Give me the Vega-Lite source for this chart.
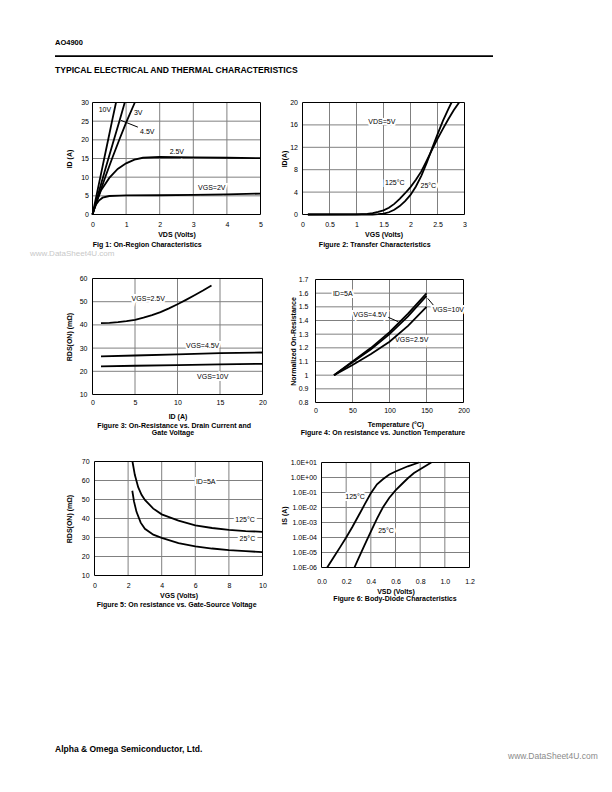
{
  "$schema": "https://vega.github.io/schema/vega-lite/v6.json",
  "width": 612,
  "height": 792,
  "autosize": {"type": "none"},
  "padding": 0,
  "background": "white",
  "datasets": {
    "f1": [
      {"s": "10V", "x": 0, "y": 0}, {"s": "10V", "x": 0.1, "y": 4.3}, {"s": "10V", "x": 0.2, "y": 8.6}, {"s": "10V", "x": 0.3, "y": 12.9}, {"s": "10V", "x": 0.4, "y": 17.2}, {"s": "10V", "x": 0.5, "y": 21.5}, {"s": "10V", "x": 0.6, "y": 25.8}, {"s": "10V", "x": 0.7, "y": 30},
      {"s": "4.5V", "x": 0, "y": 0}, {"s": "4.5V", "x": 0.2, "y": 6.4}, {"s": "4.5V", "x": 0.4, "y": 12.7}, {"s": "4.5V", "x": 0.6, "y": 18.9}, {"s": "4.5V", "x": 0.8, "y": 25.0}, {"s": "4.5V", "x": 0.96, "y": 30},
      {"s": "3V", "x": 0, "y": 0}, {"s": "3V", "x": 0.2, "y": 5.4}, {"s": "3V", "x": 0.4, "y": 10.5}, {"s": "3V", "x": 0.6, "y": 15.4}, {"s": "3V", "x": 0.8, "y": 20.1}, {"s": "3V", "x": 1.0, "y": 24.6}, {"s": "3V", "x": 1.26, "y": 30},
      {"s": "2.5V", "x": 0, "y": 0}, {"s": "2.5V", "x": 0.1, "y": 3}, {"s": "2.5V", "x": 0.25, "y": 6.4}, {"s": "2.5V", "x": 0.5, "y": 9.8}, {"s": "2.5V", "x": 0.75, "y": 12.2}, {"s": "2.5V", "x": 1.0, "y": 13.7}, {"s": "2.5V", "x": 1.25, "y": 14.7}, {"s": "2.5V", "x": 1.5, "y": 15.2}, {"s": "2.5V", "x": 2, "y": 15.4}, {"s": "2.5V", "x": 3, "y": 15.3}, {"s": "2.5V", "x": 4, "y": 15.2}, {"s": "2.5V", "x": 5, "y": 15.1},
      {"s": "2V", "x": 0, "y": 0}, {"s": "2V", "x": 0.05, "y": 1.5}, {"s": "2V", "x": 0.1, "y": 2.6}, {"s": "2V", "x": 0.2, "y": 3.8}, {"s": "2V", "x": 0.3, "y": 4.5}, {"s": "2V", "x": 0.5, "y": 4.95}, {"s": "2V", "x": 0.8, "y": 5.05}, {"s": "2V", "x": 1, "y": 5.1}, {"s": "2V", "x": 2, "y": 5.15}, {"s": "2V", "x": 3, "y": 5.25}, {"s": "2V", "x": 4, "y": 5.4}, {"s": "2V", "x": 5, "y": 5.6}
    ],
    "f1l": [
      {"x": 0.37, "y": 28.07, "t": "10V"},
      {"x": 1.36, "y": 27.19, "t": "3V"},
      {"x": 1.63, "y": 22.0, "t": "4.5V"},
      {"x": 2.51, "y": 16.66, "t": "2.5V"},
      {"x": 3.55, "y": 7.0, "t": "VGS=2V"}
    ],
    "f1a": [{"x": 1.35, "y": 23.4, "x2": 0.85, "y2": 25.2}],
    "f2": [
      {"s": "125", "x": 0.1, "y": 0}, {"s": "125", "x": 1.0, "y": 0.02}, {"s": "125", "x": 1.2, "y": 0.1}, {"s": "125", "x": 1.3, "y": 0.25}, {"s": "125", "x": 1.4, "y": 0.45}, {"s": "125", "x": 1.5, "y": 0.75}, {"s": "125", "x": 1.6, "y": 1.2}, {"s": "125", "x": 1.7, "y": 1.9}, {"s": "125", "x": 1.8, "y": 2.8}, {"s": "125", "x": 1.9, "y": 3.8}, {"s": "125", "x": 2.0, "y": 4.9}, {"s": "125", "x": 2.1, "y": 6.2}, {"s": "125", "x": 2.2, "y": 7.7}, {"s": "125", "x": 2.3, "y": 9.6}, {"s": "125", "x": 2.4, "y": 11.6}, {"s": "125", "x": 2.5, "y": 13.5}, {"s": "125", "x": 2.6, "y": 15.3}, {"s": "125", "x": 2.7, "y": 17.0}, {"s": "125", "x": 2.8, "y": 18.6}, {"s": "125", "x": 2.9, "y": 20},
      {"s": "25", "x": 0.1, "y": 0}, {"s": "25", "x": 1.3, "y": 0}, {"s": "25", "x": 1.4, "y": 0.05}, {"s": "25", "x": 1.5, "y": 0.15}, {"s": "25", "x": 1.6, "y": 0.4}, {"s": "25", "x": 1.7, "y": 0.85}, {"s": "25", "x": 1.8, "y": 1.5}, {"s": "25", "x": 1.9, "y": 2.4}, {"s": "25", "x": 2.0, "y": 3.5}, {"s": "25", "x": 2.1, "y": 5.0}, {"s": "25", "x": 2.2, "y": 6.9}, {"s": "25", "x": 2.3, "y": 9.2}, {"s": "25", "x": 2.4, "y": 11.8}, {"s": "25", "x": 2.5, "y": 14.3}, {"s": "25", "x": 2.6, "y": 16.7}, {"s": "25", "x": 2.7, "y": 18.8}, {"s": "25", "x": 2.76, "y": 20}
    ],
    "f2l": [
      {"x": 1.47, "y": 16.46, "t": "VDS=5V"},
      {"x": 1.71, "y": 5.57, "t": "125°C"},
      {"x": 2.33, "y": 5.14, "t": "25°C"}
    ],
    "f3": [
      {"s": "2.5V", "x": 1, "y": 40.8}, {"s": "2.5V", "x": 2, "y": 40.9}, {"s": "2.5V", "x": 3, "y": 41.2}, {"s": "2.5V", "x": 4, "y": 41.6}, {"s": "2.5V", "x": 5, "y": 42.2}, {"s": "2.5V", "x": 6, "y": 43.1}, {"s": "2.5V", "x": 7, "y": 44.2}, {"s": "2.5V", "x": 8, "y": 45.5}, {"s": "2.5V", "x": 9, "y": 47.1}, {"s": "2.5V", "x": 10, "y": 48.9}, {"s": "2.5V", "x": 11, "y": 50.8}, {"s": "2.5V", "x": 12, "y": 52.8}, {"s": "2.5V", "x": 13, "y": 54.8}, {"s": "2.5V", "x": 14, "y": 57.0},
      {"s": "4.5V", "x": 1, "y": 26.4}, {"s": "4.5V", "x": 5, "y": 26.8}, {"s": "4.5V", "x": 10, "y": 27.3}, {"s": "4.5V", "x": 15, "y": 27.8}, {"s": "4.5V", "x": 20, "y": 28.1},
      {"s": "10V", "x": 1, "y": 22.1}, {"s": "10V", "x": 5, "y": 22.4}, {"s": "10V", "x": 10, "y": 22.7}, {"s": "10V", "x": 15, "y": 23.0}, {"s": "10V", "x": 20, "y": 23.2}
    ],
    "f3l": [
      {"x": 6.56, "y": 51.0, "t": "VGS=2.5V"},
      {"x": 12.96, "y": 30.78, "t": "VGS=4.5V"},
      {"x": 14.14, "y": 17.41, "t": "VGS=10V"}
    ],
    "f4": [
      {"s": "10V", "x": 25, "y": 1.0}, {"s": "10V", "x": 50, "y": 1.1}, {"s": "10V", "x": 75, "y": 1.2}, {"s": "10V", "x": 100, "y": 1.315}, {"s": "10V", "x": 125, "y": 1.45}, {"s": "10V", "x": 150, "y": 1.598},
      {"s": "4.5V", "x": 25, "y": 1.0}, {"s": "4.5V", "x": 50, "y": 1.095}, {"s": "4.5V", "x": 75, "y": 1.19}, {"s": "4.5V", "x": 100, "y": 1.3}, {"s": "4.5V", "x": 125, "y": 1.43}, {"s": "4.5V", "x": 150, "y": 1.58},
      {"s": "2.5V", "x": 25, "y": 1.0}, {"s": "2.5V", "x": 50, "y": 1.075}, {"s": "2.5V", "x": 75, "y": 1.155}, {"s": "2.5V", "x": 100, "y": 1.245}, {"s": "2.5V", "x": 125, "y": 1.36}, {"s": "2.5V", "x": 150, "y": 1.5}
    ],
    "f4l": [
      {"x": 36.8, "y": 1.594, "t": "ID=5A"},
      {"x": 73.6, "y": 1.44, "t": "VGS=4.5V"},
      {"x": 179.5, "y": 1.477, "t": "VGS=10V"},
      {"x": 130, "y": 1.257, "t": "VGS=2.5V"}
    ],
    "f4a": [
      {"x": 98.4, "y": 1.423, "x2": 111.9, "y2": 1.391},
      {"x": 159.2, "y": 1.513, "x2": 151.6, "y2": 1.562}
    ],
    "f5": [
      {"s": "125", "x": 2.26, "y": 70}, {"s": "125", "x": 2.4, "y": 63}, {"s": "125", "x": 2.6, "y": 56.5}, {"s": "125", "x": 2.8, "y": 52.5}, {"s": "125", "x": 3.0, "y": 49.8}, {"s": "125", "x": 3.5, "y": 45.2}, {"s": "125", "x": 4, "y": 42.2}, {"s": "125", "x": 5, "y": 38.9}, {"s": "125", "x": 6, "y": 36.4}, {"s": "125", "x": 7, "y": 35.0}, {"s": "125", "x": 8, "y": 34.0}, {"s": "125", "x": 9, "y": 33.4}, {"s": "125", "x": 10, "y": 33.0},
      {"s": "25", "x": 2.25, "y": 54.6}, {"s": "25", "x": 2.35, "y": 49}, {"s": "25", "x": 2.5, "y": 43.5}, {"s": "25", "x": 2.75, "y": 37.8}, {"s": "25", "x": 3.0, "y": 34.6}, {"s": "25", "x": 3.5, "y": 31.5}, {"s": "25", "x": 4, "y": 29.8}, {"s": "25", "x": 5, "y": 27.1}, {"s": "25", "x": 6, "y": 25.3}, {"s": "25", "x": 7, "y": 24.2}, {"s": "25", "x": 8, "y": 23.4}, {"s": "25", "x": 9, "y": 22.8}, {"s": "25", "x": 10, "y": 22.3}
    ],
    "f5l": [
      {"x": 6.62, "y": 59.05, "t": "ID=5A"},
      {"x": 8.96, "y": 39.2, "t": "125°C"},
      {"x": 9.1, "y": 29.05, "t": "25°C"}
    ],
    "f6": [
      {"s": "125", "x": 0.046, "y": 1e-6}, {"s": "125", "x": 0.1, "y": 5.0e-6}, {"s": "125", "x": 0.15, "y": 2.2e-5}, {"s": "125", "x": 0.2, "y": 1.0e-4}, {"s": "125", "x": 0.25, "y": 5.0e-4}, {"s": "125", "x": 0.3, "y": 2.8e-3}, {"s": "125", "x": 0.35, "y": 1.6e-2}, {"s": "125", "x": 0.4, "y": 8.9e-2}, {"s": "125", "x": 0.45, "y": 0.35}, {"s": "125", "x": 0.5, "y": 0.79}, {"s": "125", "x": 0.55, "y": 1.6}, {"s": "125", "x": 0.6, "y": 2.5}, {"s": "125", "x": 0.7, "y": 5.6}, {"s": "125", "x": 0.79, "y": 10},
      {"s": "25", "x": 0.267, "y": 1e-6}, {"s": "25", "x": 0.3, "y": 4.0e-6}, {"s": "25", "x": 0.35, "y": 3.2e-5}, {"s": "25", "x": 0.4, "y": 2.5e-4}, {"s": "25", "x": 0.45, "y": 1.8e-3}, {"s": "25", "x": 0.5, "y": 1.1e-2}, {"s": "25", "x": 0.55, "y": 4.5e-2}, {"s": "25", "x": 0.6, "y": 0.14}, {"s": "25", "x": 0.65, "y": 0.355}, {"s": "25", "x": 0.7, "y": 0.89}, {"s": "25", "x": 0.75, "y": 2.0}, {"s": "25", "x": 0.8, "y": 3.55}, {"s": "25", "x": 0.89, "y": 10}
    ],
    "f6l": [
      {"x": 0.272, "y": 0.048, "t": "125°C"},
      {"x": 0.523, "y": 0.00027, "t": "25°C"}
    ]
  },
  "layer": [
    {
      "layer": [
        {"data": {"values": [{"t": "AO4900"}]}, "mark": {"type": "text", "align": "left", "baseline": "middle", "fontWeight": "bold", "fontSize": 7.5},
         "encoding": {"x": {"datum": 55, "type": "quantitative", "scale": {"domain": [0, 612], "range": [0, 612], "nice": false, "zero": false}, "axis": null},
                      "y": {"datum": 43.3, "type": "quantitative", "scale": {"domain": [0, 792], "range": [0, 792], "nice": false, "zero": false}, "axis": null},
                      "text": {"field": "t"}}},
        {"data": {"values": [{"t": "rule"}]}, "mark": {"type": "rule", "strokeWidth": 1.8, "color": "#000"},
         "encoding": {"x": {"datum": 55, "type": "quantitative", "scale": {"domain": [0, 612], "range": [0, 612], "nice": false, "zero": false}, "axis": null}, "x2": {"datum": 493},
                      "y": {"datum": 56.2, "type": "quantitative", "scale": {"domain": [0, 792], "range": [0, 792], "nice": false, "zero": false}, "axis": null}}},
        {"data": {"values": [{"t": "TYPICAL ELECTRICAL AND THERMAL CHARACTERISTICS"}]}, "mark": {"type": "text", "align": "left", "baseline": "middle", "fontWeight": "bold", "fontSize": 8.6},
         "encoding": {"x": {"datum": 55, "type": "quantitative", "scale": {"domain": [0, 612], "range": [0, 612], "nice": false, "zero": false}, "axis": null},
                      "y": {"datum": 69.5, "type": "quantitative", "scale": {"domain": [0, 792], "range": [0, 792], "nice": false, "zero": false}, "axis": null},
                      "text": {"field": "t"}}},
        {"data": {"values": [{"t": "www.DataSheet4U.com"}]}, "mark": {"type": "text", "align": "left", "baseline": "middle", "fontSize": 8, "color": "#c8c8c8"},
         "encoding": {"x": {"datum": 30, "type": "quantitative", "scale": {"domain": [0, 612], "range": [0, 612], "nice": false, "zero": false}, "axis": null},
                      "y": {"datum": 254, "type": "quantitative", "scale": {"domain": [0, 792], "range": [0, 792], "nice": false, "zero": false}, "axis": null},
                      "text": {"field": "t"}}},
        {"data": {"values": [{"t": "Alpha & Omega Semiconductor, Ltd."}]}, "mark": {"type": "text", "align": "left", "baseline": "middle", "fontWeight": "bold", "fontSize": 8.5},
         "encoding": {"x": {"datum": 55, "type": "quantitative", "scale": {"domain": [0, 612], "range": [0, 612], "nice": false, "zero": false}, "axis": null},
                      "y": {"datum": 749, "type": "quantitative", "scale": {"domain": [0, 792], "range": [0, 792], "nice": false, "zero": false}, "axis": null},
                      "text": {"field": "t"}}},
        {"data": {"values": [{"t": "www.DataSheet4U.com"}]}, "mark": {"type": "text", "align": "left", "baseline": "middle", "fontSize": 8.5, "color": "#8a8a8a"},
         "encoding": {"x": {"datum": 508, "type": "quantitative", "scale": {"domain": [0, 612], "range": [0, 612], "nice": false, "zero": false}, "axis": null},
                      "y": {"datum": 756, "type": "quantitative", "scale": {"domain": [0, 792], "range": [0, 792], "nice": false, "zero": false}, "axis": null},
                      "text": {"field": "t"}}}
      ]
    },
    {
      "layer": [
        {"data": {"values": [{"g": 1}, {"g": 2}, {"g": 3}, {"g": 4}]}, "mark": {"type": "rule", "color": "#808080", "strokeWidth": 1},
         "encoding": {"x": {"field": "g", "type": "quantitative", "scale": {"domain": [0, 5], "range": [92.5, 260.5], "nice": false, "zero": false}},
                      "y": {"datum": 0, "type": "quantitative", "scale": {"domain": [0, 30], "range": [214.5, 102.5], "nice": false, "zero": false}}, "y2": {"datum": 30}}},
        {"data": {"values": [{"g": 5}, {"g": 10}, {"g": 15}, {"g": 20}, {"g": 25}]}, "mark": {"type": "rule", "color": "#808080", "strokeWidth": 1},
         "encoding": {"y": {"field": "g", "type": "quantitative", "scale": {"domain": [0, 30], "range": [214.5, 102.5], "nice": false, "zero": false}},
                      "x": {"datum": 0, "type": "quantitative", "scale": {"domain": [0, 5], "range": [92.5, 260.5], "nice": false, "zero": false}}, "x2": {"datum": 5}}},
        {"data": {"values": [{"t": "frame"}]}, "mark": {"type": "rect", "filled": false, "color": "#000", "strokeWidth": 1},
         "encoding": {"x": {"datum": 0, "type": "quantitative", "scale": {"domain": [0, 5], "range": [92.5, 260.5], "nice": false, "zero": false}}, "x2": {"datum": 5},
                      "y": {"datum": 0, "type": "quantitative", "scale": {"domain": [0, 30], "range": [214.5, 102.5], "nice": false, "zero": false}}, "y2": {"datum": 30}}},
        {"data": {"name": "f1l"}, "mark": {"type": "text", "stroke": "white", "strokeWidth": 4, "fill": "white"},
         "encoding": {"x": {"field": "x", "type": "quantitative", "scale": {"domain": [0, 5], "range": [92.5, 260.5], "nice": false, "zero": false}},
                      "y": {"field": "y", "type": "quantitative", "scale": {"domain": [0, 30], "range": [214.5, 102.5], "nice": false, "zero": false}}, "text": {"field": "t"}}},
        {"data": {"name": "f1"}, "mark": {"type": "line"},
         "encoding": {"x": {"field": "x", "type": "quantitative", "scale": {"domain": [0, 5], "range": [92.5, 260.5], "nice": false, "zero": false},
                            "axis": {"orient": "bottom", "offset": -577.5, "values": [0, 1, 2, 3, 4, 5], "format": "~g", "title": "VDS (Volts)", "labelPadding": 6, "titlePadding": 3}},
                      "y": {"field": "y", "type": "quantitative", "scale": {"domain": [0, 30], "range": [214.5, 102.5], "nice": false, "zero": false},
                            "axis": {"orient": "left", "offset": -92.5, "values": [0, 5, 10, 15, 20, 25, 30], "format": "~g", "title": "ID (A)", "labelPadding": 4, "titlePadding": 8}},
                      "detail": {"field": "s"}}},
        {"data": {"name": "f1a"}, "mark": {"type": "rule", "color": "#000", "strokeWidth": 1},
         "encoding": {"x": {"field": "x", "type": "quantitative", "scale": {"domain": [0, 5], "range": [92.5, 260.5], "nice": false, "zero": false}},
                      "y": {"field": "y", "type": "quantitative", "scale": {"domain": [0, 30], "range": [214.5, 102.5], "nice": false, "zero": false}},
                      "x2": {"field": "x2"}, "y2": {"field": "y2"}}},
        {"data": {"name": "f1l"}, "mark": {"type": "text"},
         "encoding": {"x": {"field": "x", "type": "quantitative", "scale": {"domain": [0, 5], "range": [92.5, 260.5], "nice": false, "zero": false}},
                      "y": {"field": "y", "type": "quantitative", "scale": {"domain": [0, 30], "range": [214.5, 102.5], "nice": false, "zero": false}}, "text": {"field": "t"}}},
        {"data": {"values": [{"t": "Fig 1: On-Region Characteristics"}]}, "mark": {"type": "text", "fontWeight": "bold"},
         "encoding": {"x": {"datum": 1.63, "type": "quantitative", "scale": {"domain": [0, 5], "range": [92.5, 260.5], "nice": false, "zero": false}},
                      "y": {"datum": -8.17, "type": "quantitative", "scale": {"domain": [0, 30], "range": [214.5, 102.5], "nice": false, "zero": false}}, "text": {"field": "t"}}}
      ]
    },
    {
      "layer": [
        {"data": {"values": [{"g": 0.5}, {"g": 1}, {"g": 1.5}, {"g": 2}, {"g": 2.5}]}, "mark": {"type": "rule", "color": "#808080", "strokeWidth": 1},
         "encoding": {"x": {"field": "g", "type": "quantitative", "scale": {"domain": [0, 3], "range": [302.5, 464.5], "nice": false, "zero": false}},
                      "y": {"datum": 0, "type": "quantitative", "scale": {"domain": [0, 20], "range": [214.5, 102.5], "nice": false, "zero": false}}, "y2": {"datum": 20}}},
        {"data": {"values": [{"g": 4}, {"g": 8}, {"g": 12}, {"g": 16}]}, "mark": {"type": "rule", "color": "#808080", "strokeWidth": 1},
         "encoding": {"y": {"field": "g", "type": "quantitative", "scale": {"domain": [0, 20], "range": [214.5, 102.5], "nice": false, "zero": false}},
                      "x": {"datum": 0, "type": "quantitative", "scale": {"domain": [0, 3], "range": [302.5, 464.5], "nice": false, "zero": false}}, "x2": {"datum": 3}}},
        {"data": {"values": [{"t": "frame"}]}, "mark": {"type": "rect", "filled": false, "color": "#000", "strokeWidth": 1},
         "encoding": {"x": {"datum": 0, "type": "quantitative", "scale": {"domain": [0, 3], "range": [302.5, 464.5], "nice": false, "zero": false}}, "x2": {"datum": 3},
                      "y": {"datum": 0, "type": "quantitative", "scale": {"domain": [0, 20], "range": [214.5, 102.5], "nice": false, "zero": false}}, "y2": {"datum": 20}}},
        {"data": {"name": "f2l"}, "mark": {"type": "text", "stroke": "white", "strokeWidth": 4, "fill": "white"},
         "encoding": {"x": {"field": "x", "type": "quantitative", "scale": {"domain": [0, 3], "range": [302.5, 464.5], "nice": false, "zero": false}},
                      "y": {"field": "y", "type": "quantitative", "scale": {"domain": [0, 20], "range": [214.5, 102.5], "nice": false, "zero": false}}, "text": {"field": "t"}}},
        {"data": {"name": "f2"}, "mark": {"type": "line"},
         "encoding": {"x": {"field": "x", "type": "quantitative", "scale": {"domain": [0, 3], "range": [302.5, 464.5], "nice": false, "zero": false},
                            "axis": {"orient": "bottom", "offset": -577.5, "values": [0, 0.5, 1, 1.5, 2, 2.5, 3], "format": "~g", "title": "VGS (Volts)", "labelPadding": 6, "titlePadding": 3}},
                      "y": {"field": "y", "type": "quantitative", "scale": {"domain": [0, 20], "range": [214.5, 102.5], "nice": false, "zero": false},
                            "axis": {"orient": "left", "offset": -302.5, "values": [0, 4, 8, 12, 16, 20], "format": "~g", "title": "ID(A)", "labelPadding": 5, "titlePadding": 2}},
                      "detail": {"field": "s"}}},
        {"data": {"name": "f2l"}, "mark": {"type": "text"},
         "encoding": {"x": {"field": "x", "type": "quantitative", "scale": {"domain": [0, 3], "range": [302.5, 464.5], "nice": false, "zero": false}},
                      "y": {"field": "y", "type": "quantitative", "scale": {"domain": [0, 20], "range": [214.5, 102.5], "nice": false, "zero": false}}, "text": {"field": "t"}}},
        {"data": {"values": [{"t": "Figure 2: Transfer Characteristics"}]}, "mark": {"type": "text", "fontWeight": "bold"},
         "encoding": {"x": {"datum": 1.337, "type": "quantitative", "scale": {"domain": [0, 3], "range": [302.5, 464.5], "nice": false, "zero": false}},
                      "y": {"datum": -5.45, "type": "quantitative", "scale": {"domain": [0, 20], "range": [214.5, 102.5], "nice": false, "zero": false}}, "text": {"field": "t"}}}
      ]
    },
    {
      "layer": [
        {"data": {"values": [{"g": 5}, {"g": 10}, {"g": 15}]}, "mark": {"type": "rule", "color": "#808080", "strokeWidth": 1},
         "encoding": {"x": {"field": "g", "type": "quantitative", "scale": {"domain": [0, 20], "range": [92.5, 262.5], "nice": false, "zero": false}},
                      "y": {"datum": 10, "type": "quantitative", "scale": {"domain": [10, 60], "range": [394.5, 278.5], "nice": false, "zero": false}}, "y2": {"datum": 60}}},
        {"data": {"values": [{"g": 20}, {"g": 30}, {"g": 40}, {"g": 50}]}, "mark": {"type": "rule", "color": "#808080", "strokeWidth": 1},
         "encoding": {"y": {"field": "g", "type": "quantitative", "scale": {"domain": [10, 60], "range": [394.5, 278.5], "nice": false, "zero": false}},
                      "x": {"datum": 0, "type": "quantitative", "scale": {"domain": [0, 20], "range": [92.5, 262.5], "nice": false, "zero": false}}, "x2": {"datum": 20}}},
        {"data": {"values": [{"t": "frame"}]}, "mark": {"type": "rect", "filled": false, "color": "#000", "strokeWidth": 1},
         "encoding": {"x": {"datum": 0, "type": "quantitative", "scale": {"domain": [0, 20], "range": [92.5, 262.5], "nice": false, "zero": false}}, "x2": {"datum": 20},
                      "y": {"datum": 10, "type": "quantitative", "scale": {"domain": [10, 60], "range": [394.5, 278.5], "nice": false, "zero": false}}, "y2": {"datum": 60}}},
        {"data": {"name": "f3l"}, "mark": {"type": "text", "stroke": "white", "strokeWidth": 4, "fill": "white"},
         "encoding": {"x": {"field": "x", "type": "quantitative", "scale": {"domain": [0, 20], "range": [92.5, 262.5], "nice": false, "zero": false}},
                      "y": {"field": "y", "type": "quantitative", "scale": {"domain": [10, 60], "range": [394.5, 278.5], "nice": false, "zero": false}}, "text": {"field": "t"}}},
        {"data": {"name": "f3"}, "mark": {"type": "line"},
         "encoding": {"x": {"field": "x", "type": "quantitative", "scale": {"domain": [0, 20], "range": [92.5, 262.5], "nice": false, "zero": false},
                            "axis": {"orient": "bottom", "offset": -397.5, "values": [0, 5, 10, 15, 20], "format": "~g", "title": "ID (A)", "labelPadding": 4, "titlePadding": 7}},
                      "y": {"field": "y", "type": "quantitative", "scale": {"domain": [10, 60], "range": [394.5, 278.5], "nice": false, "zero": false},
                            "axis": {"orient": "left", "offset": -92.5, "values": [10, 20, 30, 40, 50, 60], "format": "~g", "title": "RDS(ON) (mΩ)", "labelPadding": 5.5, "titlePadding": 7}},
                      "detail": {"field": "s"}}},
        {"data": {"name": "f3l"}, "mark": {"type": "text"},
         "encoding": {"x": {"field": "x", "type": "quantitative", "scale": {"domain": [0, 20], "range": [92.5, 262.5], "nice": false, "zero": false}},
                      "y": {"field": "y", "type": "quantitative", "scale": {"domain": [10, 60], "range": [394.5, 278.5], "nice": false, "zero": false}}, "text": {"field": "t"}}},
        {"data": {"values": [{"t": "Figure 3: On-Resistance vs. Drain Current and"}]}, "mark": {"type": "text", "fontWeight": "bold"},
         "encoding": {"x": {"datum": 9.61, "type": "quantitative", "scale": {"domain": [0, 20], "range": [92.5, 262.5], "nice": false, "zero": false}},
                      "y": {"datum": -3.58, "type": "quantitative", "scale": {"domain": [10, 60], "range": [394.5, 278.5], "nice": false, "zero": false}}, "text": {"field": "t"}}},
        {"data": {"values": [{"t": "Gate Voltage"}]}, "mark": {"type": "text", "fontWeight": "bold"},
         "encoding": {"x": {"datum": 9.47, "type": "quantitative", "scale": {"domain": [0, 20], "range": [92.5, 262.5], "nice": false, "zero": false}},
                      "y": {"datum": -6.47, "type": "quantitative", "scale": {"domain": [10, 60], "range": [394.5, 278.5], "nice": false, "zero": false}}, "text": {"field": "t"}}}
      ]
    },
    {
      "layer": [
        {"data": {"values": [{"g": 50}, {"g": 100}, {"g": 150}]}, "mark": {"type": "rule", "color": "#808080", "strokeWidth": 1},
         "encoding": {"x": {"field": "g", "type": "quantitative", "scale": {"domain": [0, 200], "range": [315.5, 463.5], "nice": false, "zero": false}},
                      "y": {"datum": 0.8, "type": "quantitative", "scale": {"domain": [0.8, 1.7], "range": [402.5, 279.5], "nice": false, "zero": false}}, "y2": {"datum": 1.7}}},
        {"data": {"values": [{"g": 0.9}, {"g": 1.0}, {"g": 1.1}, {"g": 1.2}, {"g": 1.3}, {"g": 1.4}, {"g": 1.5}, {"g": 1.6}]}, "mark": {"type": "rule", "color": "#808080", "strokeWidth": 1},
         "encoding": {"y": {"field": "g", "type": "quantitative", "scale": {"domain": [0.8, 1.7], "range": [402.5, 279.5], "nice": false, "zero": false}},
                      "x": {"datum": 0, "type": "quantitative", "scale": {"domain": [0, 200], "range": [315.5, 463.5], "nice": false, "zero": false}}, "x2": {"datum": 200}}},
        {"data": {"values": [{"t": "frame"}]}, "mark": {"type": "rect", "filled": false, "color": "#000", "strokeWidth": 1},
         "encoding": {"x": {"datum": 0, "type": "quantitative", "scale": {"domain": [0, 200], "range": [315.5, 463.5], "nice": false, "zero": false}}, "x2": {"datum": 200},
                      "y": {"datum": 0.8, "type": "quantitative", "scale": {"domain": [0.8, 1.7], "range": [402.5, 279.5], "nice": false, "zero": false}}, "y2": {"datum": 1.7}}},
        {"data": {"name": "f4l"}, "mark": {"type": "text", "stroke": "white", "strokeWidth": 4, "fill": "white"},
         "encoding": {"x": {"field": "x", "type": "quantitative", "scale": {"domain": [0, 200], "range": [315.5, 463.5], "nice": false, "zero": false}},
                      "y": {"field": "y", "type": "quantitative", "scale": {"domain": [0.8, 1.7], "range": [402.5, 279.5], "nice": false, "zero": false}}, "text": {"field": "t"}}},
        {"data": {"name": "f4"}, "mark": {"type": "line"},
         "encoding": {"x": {"field": "x", "type": "quantitative", "scale": {"domain": [0, 200], "range": [315.5, 463.5], "nice": false, "zero": false},
                            "axis": {"orient": "bottom", "offset": -389.5, "values": [0, 50, 100, 150, 200], "format": "~g", "title": "Temperature (°C)", "titleX": 395.5, "labelPadding": 3.5, "titlePadding": 7}},
                      "y": {"field": "y", "type": "quantitative", "scale": {"domain": [0.8, 1.7], "range": [402.5, 279.5], "nice": false, "zero": false},
                            "axis": {"orient": "left", "offset": -315.5, "values": [0.8, 0.9, 1, 1.1, 1.2, 1.3, 1.4, 1.5, 1.6, 1.7], "format": "~g", "title": "Normalized On-Resistance", "labelPadding": 7.5, "titlePadding": 1.5}},
                      "detail": {"field": "s"}}},
        {"data": {"name": "f4a"}, "mark": {"type": "rule", "color": "#000", "strokeWidth": 1},
         "encoding": {"x": {"field": "x", "type": "quantitative", "scale": {"domain": [0, 200], "range": [315.5, 463.5], "nice": false, "zero": false}},
                      "y": {"field": "y", "type": "quantitative", "scale": {"domain": [0.8, 1.7], "range": [402.5, 279.5], "nice": false, "zero": false}},
                      "x2": {"field": "x2"}, "y2": {"field": "y2"}}},
        {"data": {"name": "f4l"}, "mark": {"type": "text"},
         "encoding": {"x": {"field": "x", "type": "quantitative", "scale": {"domain": [0, 200], "range": [315.5, 463.5], "nice": false, "zero": false}},
                      "y": {"field": "y", "type": "quantitative", "scale": {"domain": [0.8, 1.7], "range": [402.5, 279.5], "nice": false, "zero": false}}, "text": {"field": "t"}}},
        {"data": {"values": [{"t": "Figure 4: On resistance vs. Junction Temperature"}]}, "mark": {"type": "text", "fontWeight": "bold"},
         "encoding": {"x": {"datum": 91.2, "type": "quantitative", "scale": {"domain": [0, 200], "range": [315.5, 463.5], "nice": false, "zero": false}},
                      "y": {"datum": 0.575, "type": "quantitative", "scale": {"domain": [0.8, 1.7], "range": [402.5, 279.5], "nice": false, "zero": false}}, "text": {"field": "t"}}}
      ]
    },
    {
      "layer": [
        {"data": {"values": [{"g": 2}, {"g": 4}, {"g": 6}, {"g": 8}]}, "mark": {"type": "rule", "color": "#808080", "strokeWidth": 1},
         "encoding": {"x": {"field": "g", "type": "quantitative", "scale": {"domain": [0, 10], "range": [94.5, 262.5], "nice": false, "zero": false}},
                      "y": {"datum": 10, "type": "quantitative", "scale": {"domain": [10, 70], "range": [575.5, 461.5], "nice": false, "zero": false}}, "y2": {"datum": 70}}},
        {"data": {"values": [{"g": 20}, {"g": 30}, {"g": 40}, {"g": 50}, {"g": 60}]}, "mark": {"type": "rule", "color": "#808080", "strokeWidth": 1},
         "encoding": {"y": {"field": "g", "type": "quantitative", "scale": {"domain": [10, 70], "range": [575.5, 461.5], "nice": false, "zero": false}},
                      "x": {"datum": 0, "type": "quantitative", "scale": {"domain": [0, 10], "range": [94.5, 262.5], "nice": false, "zero": false}}, "x2": {"datum": 10}}},
        {"data": {"values": [{"t": "frame"}]}, "mark": {"type": "rect", "filled": false, "color": "#000", "strokeWidth": 1},
         "encoding": {"x": {"datum": 0, "type": "quantitative", "scale": {"domain": [0, 10], "range": [94.5, 262.5], "nice": false, "zero": false}}, "x2": {"datum": 10},
                      "y": {"datum": 10, "type": "quantitative", "scale": {"domain": [10, 70], "range": [575.5, 461.5], "nice": false, "zero": false}}, "y2": {"datum": 70}}},
        {"data": {"name": "f5l"}, "mark": {"type": "text", "stroke": "white", "strokeWidth": 4, "fill": "white"},
         "encoding": {"x": {"field": "x", "type": "quantitative", "scale": {"domain": [0, 10], "range": [94.5, 262.5], "nice": false, "zero": false}},
                      "y": {"field": "y", "type": "quantitative", "scale": {"domain": [10, 70], "range": [575.5, 461.5], "nice": false, "zero": false}}, "text": {"field": "t"}}},
        {"data": {"name": "f5"}, "mark": {"type": "line"},
         "encoding": {"x": {"field": "x", "type": "quantitative", "scale": {"domain": [0, 10], "range": [94.5, 262.5], "nice": false, "zero": false},
                            "axis": {"orient": "bottom", "offset": -216.5, "values": [0, 2, 4, 6, 8, 10], "format": "~g", "title": "VGS (Volts)", "labelPadding": 6, "titlePadding": 3}},
                      "y": {"field": "y", "type": "quantitative", "scale": {"domain": [10, 70], "range": [575.5, 461.5], "nice": false, "zero": false},
                            "axis": {"orient": "left", "offset": -94.5, "values": [10, 20, 30, 40, 50, 60, 70], "format": "~g", "title": "RDS(ON) (mΩ)", "labelPadding": 5.4, "titlePadding": 9}},
                      "detail": {"field": "s"}}},
        {"data": {"name": "f5l"}, "mark": {"type": "text"},
         "encoding": {"x": {"field": "x", "type": "quantitative", "scale": {"domain": [0, 10], "range": [94.5, 262.5], "nice": false, "zero": false}},
                      "y": {"field": "y", "type": "quantitative", "scale": {"domain": [10, 70], "range": [575.5, 461.5], "nice": false, "zero": false}}, "text": {"field": "t"}}},
        {"data": {"values": [{"t": "Figure 5: On resistance vs. Gate-Source Voltage"}]}, "mark": {"type": "text", "fontWeight": "bold"},
         "encoding": {"x": {"datum": 4.89, "type": "quantitative", "scale": {"domain": [0, 10], "range": [94.5, 262.5], "nice": false, "zero": false}},
                      "y": {"datum": -5.53, "type": "quantitative", "scale": {"domain": [10, 70], "range": [575.5, 461.5], "nice": false, "zero": false}}, "text": {"field": "t"}}}
      ]
    },
    {
      "layer": [
        {"data": {"values": [{"g": 0.2}, {"g": 0.4}, {"g": 0.6}, {"g": 0.8}, {"g": 1.0}]}, "mark": {"type": "rule", "color": "#808080", "strokeWidth": 1},
         "encoding": {"x": {"field": "g", "type": "quantitative", "scale": {"domain": [0, 1.2], "range": [321.5, 469.5], "nice": false, "zero": false}},
                      "y": {"datum": 0.000001, "type": "quantitative", "scale": {"type": "log", "domain": [0.000001, 10], "range": [567.5, 462.5], "nice": false}}, "y2": {"datum": 10}}},
        {"data": {"values": [{"g": 0.00001}, {"g": 0.0001}, {"g": 0.001}, {"g": 0.01}, {"g": 0.1}, {"g": 1}]}, "mark": {"type": "rule", "color": "#808080", "strokeWidth": 1},
         "encoding": {"y": {"field": "g", "type": "quantitative", "scale": {"type": "log", "domain": [0.000001, 10], "range": [567.5, 462.5], "nice": false}},
                      "x": {"datum": 0, "type": "quantitative", "scale": {"domain": [0, 1.2], "range": [321.5, 469.5], "nice": false, "zero": false}}, "x2": {"datum": 1.2}}},
        {"data": {"values": [{"t": "frame"}]}, "mark": {"type": "rect", "filled": false, "color": "#000", "strokeWidth": 1},
         "encoding": {"x": {"datum": 0, "type": "quantitative", "scale": {"domain": [0, 1.2], "range": [321.5, 469.5], "nice": false, "zero": false}}, "x2": {"datum": 1.2},
                      "y": {"datum": 0.000001, "type": "quantitative", "scale": {"type": "log", "domain": [0.000001, 10], "range": [567.5, 462.5], "nice": false}}, "y2": {"datum": 10}}},
        {"data": {"name": "f6l"}, "mark": {"type": "text", "stroke": "white", "strokeWidth": 4, "fill": "white"},
         "encoding": {"x": {"field": "x", "type": "quantitative", "scale": {"domain": [0, 1.2], "range": [321.5, 469.5], "nice": false, "zero": false}},
                      "y": {"field": "y", "type": "quantitative", "scale": {"type": "log", "domain": [0.000001, 10], "range": [567.5, 462.5], "nice": false}}, "text": {"field": "t"}}},
        {"data": {"name": "f6"}, "mark": {"type": "line"},
         "encoding": {"x": {"field": "x", "type": "quantitative", "scale": {"domain": [0, 1.2], "range": [321.5, 469.5], "nice": false, "zero": false},
                            "axis": {"orient": "bottom", "offset": -224.5, "values": [0, 0.2, 0.4, 0.6, 0.8, 1.0, 1.2], "format": ".1f", "title": "VSD (Volts)", "labelPadding": 10, "titlePadding": 2.5}},
                      "y": {"field": "y", "type": "quantitative", "scale": {"type": "log", "domain": [0.000001, 10], "range": [567.5, 462.5], "nice": false},
                            "axis": {"orient": "left", "offset": -321.5, "values": [0.000001, 0.00001, 0.0001, 0.001, 0.01, 0.1, 1, 10], "labelExpr": "'1.0E' + (datum.value >= 1 ? '+' : '-') + '0' + abs(round(log(datum.value) / LN10))", "title": "IS (A)", "labelPadding": 5, "titlePadding": 3}},
                      "detail": {"field": "s"}}},
        {"data": {"name": "f6l"}, "mark": {"type": "text"},
         "encoding": {"x": {"field": "x", "type": "quantitative", "scale": {"domain": [0, 1.2], "range": [321.5, 469.5], "nice": false, "zero": false}},
                      "y": {"field": "y", "type": "quantitative", "scale": {"type": "log", "domain": [0.000001, 10], "range": [567.5, 462.5], "nice": false}}, "text": {"field": "t"}}},
        {"data": {"values": [{"t": "Figure 6: Body-Diode Characteristics"}]}, "mark": {"type": "text", "fontWeight": "bold"},
         "encoding": {"x": {"datum": 0.596, "type": "quantitative", "scale": {"domain": [0, 1.2], "range": [321.5, 469.5], "nice": false, "zero": false}},
                      "y": {"datum": 0.0000000079, "type": "quantitative", "scale": {"type": "log", "domain": [0.000001, 10], "range": [567.5, 462.5], "nice": false}}, "text": {"field": "t"}}}
      ]
    }
  ],
  "resolve": {"scale": {"x": "independent", "y": "independent"}},
  "config": {
    "view": {"stroke": null},
    "font": "Liberation Sans",
    "axis": {"grid": false, "domain": false, "ticks": false, "tickCount": 100, "labelFont": "Liberation Sans", "labelFontSize": 7, "labelColor": "#000", "labelFlush": false, "labelOverlap": false, "titleFont": "Liberation Sans", "titleFontSize": 7, "titleFontWeight": "bold", "titleColor": "#000"},
    "text": {"font": "Liberation Sans", "fontSize": 7, "color": "#000"},
    "line": {"color": "#000", "strokeWidth": 1.8}
  }
}
